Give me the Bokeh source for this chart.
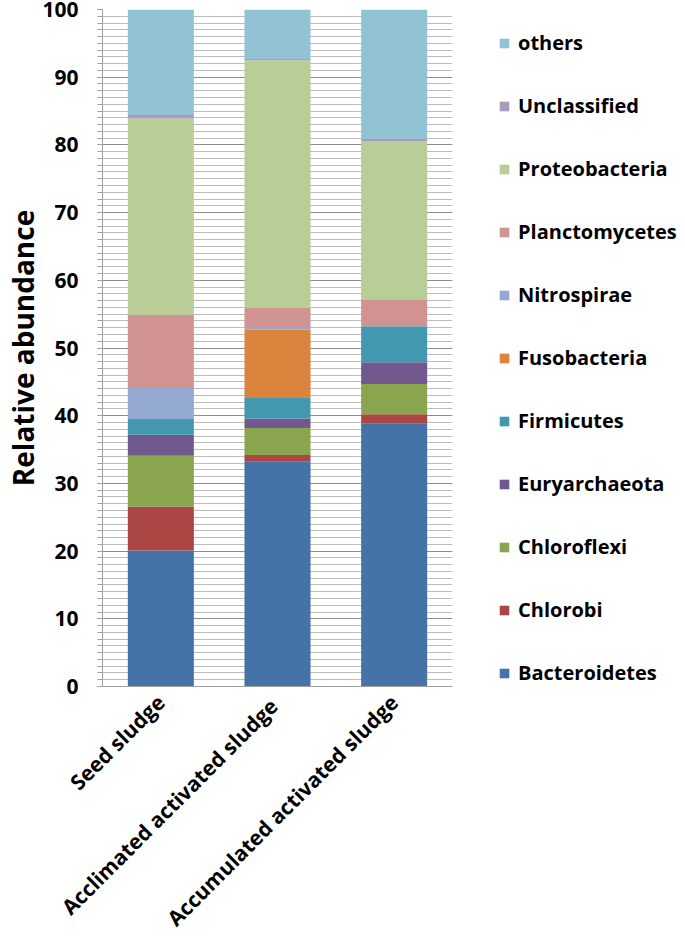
import math
from bokeh.plotting import figure
from bokeh.models import (ColumnDataSource, FactorRange, Range1d, Legend, LegendItem,
                          SingleIntervalTicker)
from bokeh.embed import file_html
from bokeh.resources import INLINE

samples = ["Seed sludge", "Acclimated  activated sludge", "Accumulated activated sludge"]

phyla = ["Bacteroidetes", "Chlorobi", "Chloroflexi", "Euryarchaeota", "Firmicutes",
         "Fusobacteria", "Nitrospirae", "Planctomycetes", "Proteobacteria",
         "Unclassified", "others"]

bacteroidetes = [20.1, 33.2, 38.8]
chlorobi = [6.5, 1.0, 1.4]
chloroflexi = [7.5, 4.0, 4.5]
euryarchaeota = [3.1, 1.4, 3.2]
firmicutes = [2.3, 3.0, 5.3]
fusobacteria = [0.0, 10.1, 0.0]
nitrospirae = [4.6, 0.4, 0.0]
planctomycetes = [10.8, 2.8, 4.0]
proteobacteria = [29.0, 36.6, 23.3]
unclassified = [0.5, 0.2, 0.4]
others = [15.6, 7.3, 19.1]

colors = ["#4572A7", "#AA4643", "#89A54E", "#71588F", "#4198AF", "#DB843D",
          "#93A9CF", "#D19392", "#B9CD96", "#A99BBD", "#92C3D4"]

data = {"sample": samples,
        "Bacteroidetes": bacteroidetes, "Chlorobi": chlorobi, "Chloroflexi": chloroflexi,
        "Euryarchaeota": euryarchaeota, "Firmicutes": firmicutes,
        "Fusobacteria": fusobacteria, "Nitrospirae": nitrospirae,
        "Planctomycetes": planctomycetes, "Proteobacteria": proteobacteria,
        "Unclassified": unclassified, "others": others}
source = ColumnDataSource(data)

FONT = "Open Sans"

p = figure(x_range=FactorRange(*samples), y_range=Range1d(0, 100),
           frame_width=350, frame_height=677,
           min_border_left=102, min_border_right=210, min_border_top=9, min_border_bottom=230,
           output_backend="svg", toolbar_location=None)
p.outline_line_color = None
p.background_fill_color = "white"

rs = p.vbar_stack(phyla, x="sample", width=0.566, color=colors, line_color=None, source=source)

# y axis
p.yaxis.ticker = SingleIntervalTicker(interval=10, num_minor_ticks=10)
p.yaxis.axis_label = "Relative abundance"
p.yaxis.axis_label_text_font = FONT
p.yaxis.axis_label_text_font_style = "bold"
p.yaxis.axis_label_text_font_size = "28px"
p.yaxis.axis_label_text_color = "black"
p.yaxis.axis_label_standoff = -3
p.yaxis.major_label_text_font = FONT
p.yaxis.major_label_text_font_style = "bold"
p.yaxis.major_label_text_font_size = "21px"
p.yaxis.major_label_text_color = "black"
p.yaxis.major_label_standoff = 19
p.yaxis.axis_line_color = "#a0a0a0"
p.yaxis.major_tick_line_color = "#a0a0a0"
p.yaxis.minor_tick_line_color = "#a0a0a0"
p.yaxis.major_tick_out = 5
p.yaxis.major_tick_in = 0
p.yaxis.minor_tick_out = 5
p.yaxis.minor_tick_in = 0

# x axis
p.xaxis.major_label_orientation = math.pi / 4
p.xaxis.major_label_text_font = FONT
p.xaxis.major_label_text_font_style = "bold"
p.xaxis.major_label_text_font_size = "21px"
p.xaxis.major_label_text_color = "black"
p.xaxis.major_label_standoff = 6
p.xaxis.axis_line_color = "#a0a0a0"
p.xaxis.major_tick_line_color = None
p.xaxis.minor_tick_line_color = None

# grid
p.xgrid.grid_line_color = None
p.ygrid.ticker = SingleIntervalTicker(interval=10, num_minor_ticks=10)
p.ygrid.grid_line_color = "#8c8c8c"
p.ygrid.minor_grid_line_color = "#bdbdbd"
p.ygrid.level = "underlay"

items = [LegendItem(label=name, renderers=[r]) for name, r in zip(phyla, rs)][::-1]
legend = Legend(items=items, location=(46, 0), margin=0, padding=0,
                border_line_alpha=0, background_fill_alpha=0,
                glyph_width=12, glyph_height=12, label_height=21, spacing=36,
                label_standoff=8, label_text_font=FONT, label_text_font_style="bold",
                label_text_font_size="20px", label_text_color="black")
p.add_layout(legend, "right")

open("out.html", "w").write(file_html(p, INLINE))
